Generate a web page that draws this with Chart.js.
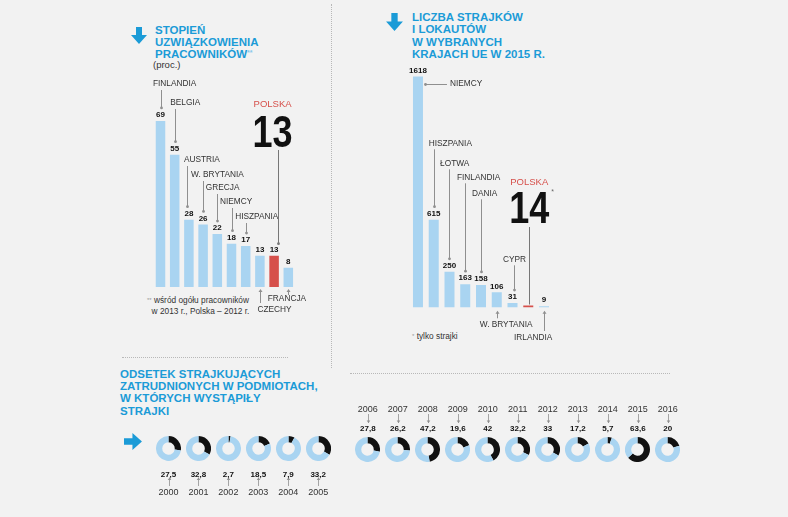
<!DOCTYPE html>
<html lang="pl">
<head>
<meta charset="utf-8">
<title>Uzwiązkowienie i strajki</title>
<script src="https://cdn.jsdelivr.net/npm/chart.js@4.4.1/dist/chart.umd.min.js"></script>
<style>
  html, body { margin: 0; padding: 0; }
  body { width: 788px; height: 517px; background: #f2f2f2; position: relative; overflow: hidden;
         font-family: "Liberation Sans", Arial, sans-serif; color: #333; }
  .abs { position: absolute; }
  .title { position: absolute; color: #1b9bd7; font-weight: bold; font-size: 11.5px; line-height: 12.2px; white-space: nowrap; }
  .title sup { font-size: 7px; color: #86c8ec; vertical-align: top; position: relative; top: -1px; }
  .note { position: absolute; font-size: 8.3px; color: #333; white-space: nowrap; line-height: 10.5px; }
  .note sup { font-size: 6px; color: #999; vertical-align: top; }
  .lbl { position: absolute; transform: translate(-50%, -50%); white-space: nowrap; }
  .yr { font-size: 9px; color: #333; }
  .val { font-size: 8px; font-weight: bold; color: #111; }
  canvas { position: absolute; }
</style>
</head>
<body>

<!-- dotted dividers -->
<div class="abs" style="left:331px;top:4px;height:364px;border-left:1px dotted #b8b8b8"></div>
<div class="abs" style="left:122px;top:357px;width:166px;border-top:1px dotted #b8b8b8"></div>
<div class="abs" style="left:350px;top:373px;width:320px;border-top:1px dotted #b8b8b8"></div>

<!-- arrows -->
<svg class="abs" style="left:130px;top:27px" width="18" height="18" viewBox="0 0 18 18"><path d="M6 0H12V8H17L9 17L1 8H6Z" fill="#1b9bd7"/></svg>
<svg class="abs" style="left:385px;top:13px" width="19" height="19" viewBox="0 0 18 18"><path d="M6 0H12V8H17L9 17L1 8H6Z" fill="#1b9bd7"/></svg>
<svg class="abs" style="left:124px;top:432px" width="19" height="19" viewBox="0 0 18 18"><path d="M0 6H8V1L17 9L8 17V12H0Z" fill="#1b9bd7"/></svg>

<!-- titles -->
<div class="title" style="left:155px;top:24px">STOPIEŃ<br>UZWIĄZKOWIENIA<br>PRACOWNIKÓW<sup>**</sup></div>
<div class="note" style="left:153px;top:60px;font-size:9.5px">(proc.)</div>
<div class="title" style="left:412px;top:10.5px;line-height:12.5px">LICZBA STRAJKÓW<br>I LOKAUTÓW<br>W WYBRANYCH<br>KRAJACH UE W 2015 R.</div>
<div class="title" style="left:120px;top:368px">ODSETEK STRAJKUJĄCYCH<br>ZATRUDNIONYCH W PODMIOTACH,<br>W KTÓRYCH WYSTĄPIŁY<br>STRAJKI</div>

<!-- footnotes -->
<div class="note" style="left:147px;top:295px"><sup>**</sup> wśród ogółu pracowników<br>&nbsp;&nbsp;w 2013 r., Polska – 2012 r.</div>
<div class="note" style="left:412px;top:331px"><sup>*</sup> tylko strajki</div>

<canvas id="union" width="190" height="260" style="left:130px;top:60px"></canvas>
<canvas id="strikes" width="190" height="290" style="left:390px;top:60px"></canvas>

<script>
// stopień uzwiązkowienia (proc.)
const unionCountries = ['FINLANDIA', 'BELGIA', 'AUSTRIA', 'W. BRYTANIA', 'GRECJA', 'NIEMCY', 'HISZPANIA', 'CZECHY', 'POLSKA', 'FRANCJA'];
const unionRates = [69, 55, 28, 26, 22, 18, 17, 13, 13, 8];

// liczba strajków i lokautów w 2015 r.
const strikeCountries = ['NIEMCY', 'HISZPANIA', 'ŁOTWA', 'FINLANDIA', 'DANIA', 'W. BRYTANIA', 'CYPR', 'POLSKA', 'IRLANDIA'];
const strikeCounts = [1618, 615, 250, 163, 158, 106, 31, 14, 9];

// odsetek strajkujących zatrudnionych
const yearsEarly = ['2000', '2001', '2002', '2003', '2004', '2005'];
const shareEarly = [27.5, 32.8, 2.7, 18.5, 7.9, 33.2];
const yearsLate = ['2006', '2007', '2008', '2009', '2010', '2011', '2012', '2013', '2014', '2015', '2016'];
const shareLate = [27.8, 26.2, 47.2, 19.6, 42, 32.2, 33, 17.2, 5.7, 63.6, 20];

const FONT = '"Liberation Sans", Arial, sans-serif';
const BLUE = '#a9d4f1';
const RED = '#d6504b';
const INK = '#111';
const LINE = '#8f8f8f';

// where the country names sit (canvas px), kept apart from the data
const unionLayout = [
  { kind: 'up', y: 24, dx: -7.5 },
  { kind: 'up', y: 43, dx: -4.5 },
  { kind: 'up', y: 100, dx: -5, lx: -1.5 },
  { kind: 'up', y: 115, dx: -12 },
  { kind: 'up', y: 128, dx: -11.5 },
  { kind: 'up', y: 142, dx: -11.5 },
  { kind: 'up', y: 157, dx: -10.5 },
  { kind: 'down', y: 250, dx: -2.5, a0: 229, a1: 243 },
  { kind: 'big', px: -20.5, py: 44, nx: -21.5, ny: 87, lx: 4, ly: 90, gap: 12 },
  { kind: 'down', y: 239, dx: -20.5, a0: 229, a1: 235 }
];
const strikeLayout = [
  { kind: 'side', y: 24, x0: 7, x1: 29, tx: 32 },
  { kind: 'up', y: 83.3, dx: -5 },
  { kind: 'up', y: 103.3, dx: -9.4 },
  { kind: 'up', y: 117.3, dx: -8.3 },
  { kind: 'up', y: 133.3, dx: -9 },
  { kind: 'down', y: 264.3, dx: -17, a0: 250.7, a1: 258.3 },
  { kind: 'up', y: 199.3, dx: -9.6, lx: 1 },
  { kind: 'big', px: -18, py: 122.7, nx: -19, ny: 163, lx: 0.5, ly: 167, gap: 1, star: true },
  { kind: 'down', y: 277.7, dx: -30, a0: 250.7, a1: 271 }
];

function vline(ctx, x, y0, y1) {
  x = Math.round(x) + 0.5;
  ctx.beginPath(); ctx.moveTo(x, y0); ctx.lineTo(x, y1); ctx.stroke();
}
function dot(ctx, x, y) {
  ctx.beginPath(); ctx.arc(Math.round(x) + 0.5, y, 1.4, 0, Math.PI * 2); ctx.fill();
}
function name(ctx, text, x, y) {
  ctx.font = '8.3px ' + FONT; ctx.fillStyle = '#333'; ctx.textAlign = 'left'; ctx.textBaseline = 'middle';
  ctx.fillText(text, x, y);
}

function callouts(layout, smallValueOnBig) {
  return {
    id: 'callouts',
    afterDatasetsDraw(chart) {
      const ctx = chart.ctx;
      const bars = chart.getDatasetMeta(0).data;
      const names = chart.data.labels;
      const vals = chart.data.datasets[0].data;
      ctx.save();
      bars.forEach((bar, i) => {
        const c = layout[i];
        const x = bar.x, top = bar.y;
        if (c.kind !== 'big' || smallValueOnBig) {
          ctx.font = 'bold 8px ' + FONT; ctx.fillStyle = INK; ctx.textAlign = 'center'; ctx.textBaseline = 'middle';
          ctx.fillText(String(vals[i]), x, top - 6);
        }
        ctx.strokeStyle = LINE; ctx.fillStyle = LINE; ctx.lineWidth = 1;
        if (c.kind === 'up') {
          const lx = x + (c.lx || 0);
          vline(ctx, lx, c.y + 6, top - 13);
          dot(ctx, lx, top - 13);
          name(ctx, names[i], x + c.dx, c.y);
        } else if (c.kind === 'side') {
          ctx.beginPath(); ctx.moveTo(x + c.x0, Math.round(c.y) + 0.5); ctx.lineTo(x + c.x1, Math.round(c.y) + 0.5); ctx.stroke();
          dot(ctx, x + c.x0, Math.round(c.y) + 0.5);
          name(ctx, names[i], x + c.tx, c.y);
        } else if (c.kind === 'down') {
          vline(ctx, x, c.a0 + 2, c.a1);
          const ax = Math.round(x) + 0.5;
          ctx.beginPath(); ctx.moveTo(ax, c.a0); ctx.lineTo(ax - 2, c.a0 + 3); ctx.lineTo(ax + 2, c.a0 + 3); ctx.closePath(); ctx.fill();
          name(ctx, names[i], x + c.dx, c.y);
        } else if (c.kind === 'big') {
          ctx.strokeStyle = '#777'; ctx.fillStyle = '#777';
          vline(ctx, x + c.lx, c.ly, top - c.gap);
          if (c.gap > 4) dot(ctx, x + c.lx, top - c.gap);
          ctx.font = '9.5px ' + FONT; ctx.fillStyle = RED; ctx.textAlign = 'left'; ctx.textBaseline = 'middle';
          ctx.fillText(names[i], x + c.px, c.py);
          ctx.save();
          ctx.translate(x + c.nx, c.ny);
          ctx.scale(1, 1.25);
          ctx.font = 'bold 36px ' + FONT; ctx.fillStyle = INK; ctx.textBaseline = 'alphabetic';
          ctx.fillText(String(vals[i]), 0, 0);
          ctx.restore();
          if (c.star) {
            ctx.font = '7px ' + FONT; ctx.fillStyle = '#666'; ctx.textBaseline = 'middle';
            ctx.fillText('*', x + c.nx + 42, c.ny - 31);
          }
        }
      });
      ctx.restore();
    }
  };
}

function barOptions(padding, max) {
  return {
    responsive: false,
    animation: false,
    devicePixelRatio: 1,
    layout: { padding: padding },
    scales: {
      x: { display: false },
      y: { display: false, min: 0, max: max }
    },
    plugins: { legend: { display: false }, tooltip: { enabled: false } }
  };
}

new Chart(document.getElementById('union'), {
  type: 'bar',
  data: {
    labels: unionCountries,
    datasets: [{
      data: unionRates,
      backgroundColor: unionCountries.map(c => c === 'POLSKA' ? RED : BLUE),
      borderWidth: 0,
      categoryPercentage: 1,
      barPercentage: 0.67
    }]
  },
  options: barOptions({ left: 23.4, right: 24.6, top: 34.5, bottom: 33 }, 80),
  plugins: [callouts(unionLayout, true)]
});

new Chart(document.getElementById('strikes'), {
  type: 'bar',
  data: {
    labels: strikeCountries,
    datasets: [{
      data: strikeCounts,
      backgroundColor: strikeCountries.map(c => c === 'POLSKA' ? RED : BLUE),
      borderWidth: 0,
      categoryPercentage: 1,
      barPercentage: 0.635
    }]
  },
  options: barOptions({ left: 20.1, right: 28.1, top: 4.7, bottom: 42.5 }, 1700),
  plugins: [callouts(strikeLayout, false)]
});

// small rings
const svgNS = 'http://www.w3.org/2000/svg';
const overlay = document.createElementNS(svgNS, 'svg');
overlay.setAttribute('width', 788); overlay.setAttribute('height', 517);
overlay.setAttribute('class', 'abs');
overlay.style.left = '0px'; overlay.style.top = '0px';
document.body.appendChild(overlay);

function tinyArrow(x, yFrom, yTo) {
  const x0 = Math.round(x) + 0.5;
  const l = document.createElementNS(svgNS, 'line');
  l.setAttribute('x1', x0); l.setAttribute('x2', x0); l.setAttribute('y1', yFrom); l.setAttribute('y2', yTo);
  l.setAttribute('stroke', LINE); l.setAttribute('stroke-width', 0.8);
  overlay.appendChild(l);
  const d = yTo < yFrom ? 1 : -1;
  const p = document.createElementNS(svgNS, 'path');
  p.setAttribute('d', `M${x0} ${yTo} L${x0 - 1.8} ${yTo + d * 2.6} L${x0 + 1.8} ${yTo + d * 2.6}Z`);
  p.setAttribute('fill', LINE);
  overlay.appendChild(p);
}

function text(cls, str, x, y) {
  const d = document.createElement('div');
  d.className = 'lbl ' + cls;
  d.style.left = x + 'px'; d.style.top = y + 'px';
  d.textContent = str;
  document.body.appendChild(d);
}

function ring(cx, cy, value) {
  const cv = document.createElement('canvas');
  cv.width = 25; cv.height = 25;
  cv.style.left = (cx - 12.5) + 'px'; cv.style.top = (cy - 12.5) + 'px';
  document.body.appendChild(cv);
  new Chart(cv, {
    type: 'doughnut',
    data: {
      labels: ['strajkujący', 'pozostali'],
      datasets: [{ data: [value, 100 - value], backgroundColor: [INK, BLUE], borderWidth: 0, hoverOffset: 0 }]
    },
    options: {
      responsive: false, animation: false, devicePixelRatio: 1, cutout: '50%',
      plugins: { legend: { display: false }, tooltip: { enabled: false } }
    }
  });
}

const fmt = v => String(v).replace('.', ',');

yearsEarly.forEach((yr, i) => {
  const cx = 168.5 + i * 29.94;
  ring(cx, 448.7, shareEarly[i]);
  text('val', fmt(shareEarly[i]), cx, 474);
  tinyArrow(cx, 486, 477.5);
  text('yr', yr, cx, 492.3);
});

yearsLate.forEach((yr, i) => {
  const cx = 367.8 + i * 30;
  ring(cx, 449.2, shareLate[i]);
  text('yr', yr, cx, 409.3);
  tinyArrow(cx, 414, 423);
  text('val', fmt(shareLate[i]), cx, 428);
});
</script>
</body>
</html>
